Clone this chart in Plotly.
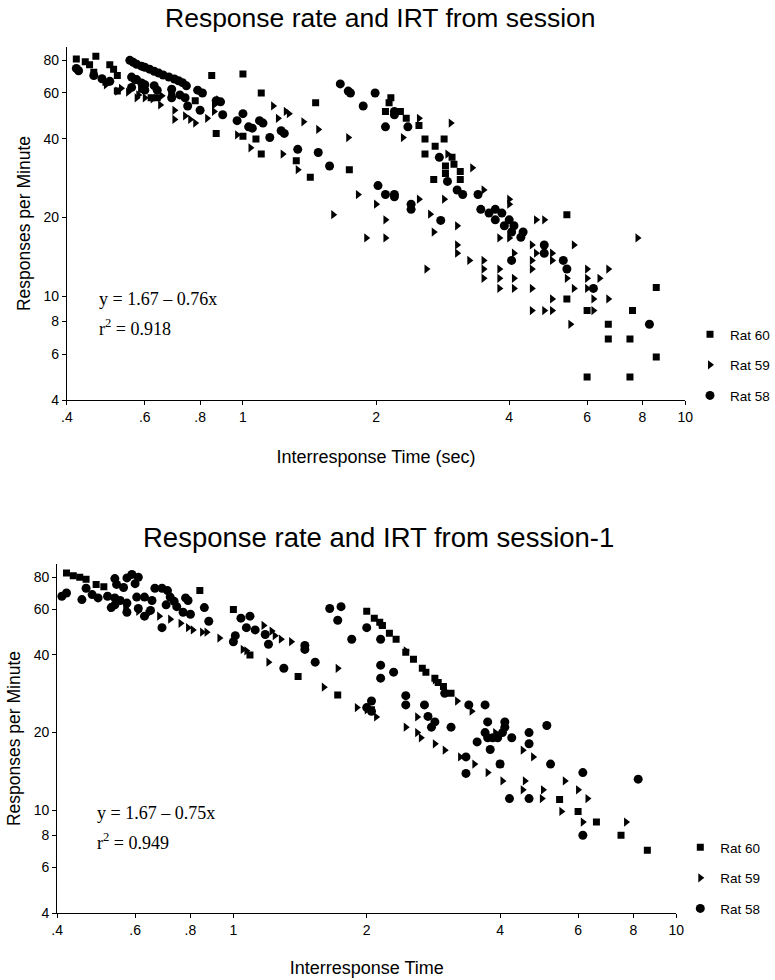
import math
import plotly.graph_objects as go

# ---------------- tick definitions ----------------
X_TICKS = [0.4, 0.6, 0.8, 1, 2, 4, 6, 8, 10]
X_TICK_TEXT = [".4", ".6", ".8", "1", "2", "4", "6", "8", "10"]
Y_TICKS = [4, 6, 8, 10, 20, 40, 60, 80]
Y_TICK_TEXT = ["4", "6", "8", "10", "20", "40", "60", "80"]

SERIES_NAMES = ["Rat 60", "Rat 59", "Rat 58"]

# ---------------- session (top panel) ----------------
s_rat60_x = [0.42, 0.44, 0.45, 0.465, 0.50, 0.51, 0.52, 0.46, 0.52, 0.62, 0.78, 0.49, 0.59, 0.64, 0.69,
             0.85, 1.0, 1.1, 1.46, 0.87, 1.0, 1.07, 1.1, 1.32, 1.42, 1.74, 2.16, 2.14, 2.1, 2.27,
             2.34, 2.5, 2.58, 2.72, 2.85, 2.58, 2.97, 3.0, 2.87, 2.87, 3.1, 3.1, 2.7, 5.4, 8.6,
             5.4, 6.0, 7.6, 6.7, 6.7, 7.5, 8.6, 6.0, 7.5]
s_rat60_y = [81, 79, 77, 83, 77, 74, 70, 72, 61, 57.5, 56, 66, 62, 57.5, 59,
             70, 71, 60, 55, 42, 41, 40, 35, 33, 28.5, 30.5, 57.5, 55, 51, 51,
             48, 45, 40, 37.5, 40, 35, 34, 32, 31.5, 29.5, 30, 28, 28, 20.5, 10.8,
             9.75, 8.8, 8.8, 7.8, 6.85, 6.85, 5.85, 4.9, 4.9]

s_rat59_x = [0.52, 0.575, 0.60, 0.65, 0.70, 0.70, 0.74, 0.76, 0.78, 0.83, 0.86, 0.86, 0.88, 0.97, 1.04,
             1.17, 1.25, 1.27, 1.2, 1.37, 1.48, 1.73, 1.23, 1.33, 1.82, 1.6, 2.0, 2.1, 1.9, 2.1,
             2.3, 2.5, 2.95, 3.3, 2.9, 2.5, 2.65, 2.85, 3.05, 2.7, 3.5, 4.0, 4.0, 4.6, 4.8,
             7.8, 3.8, 4.0, 3.05, 3.05, 3.25, 3.5, 3.5, 3.5, 3.8, 3.8, 3.8, 4.1, 4.1, 4.1,
             4.5, 4.6, 5.0, 4.5, 5.0, 4.5, 5.6, 4.5, 2.6, 5.4, 6.0, 6.0, 6.4, 6.7, 5.6,
             6.0, 6.2, 6.7, 5.0, 4.5, 4.8, 5.0, 6.2, 5.5, 0.58, 0.625, 0.655, 0.55, 0.53, 0.49]
s_rat59_y = [61, 57.5, 57.5, 54, 51.5, 47.5, 49, 47.5, 46, 48, 54, 51, 56.5, 41.5, 37,
             53.5, 51, 50, 48, 46.5, 43.5, 40.5, 35, 30.5, 24.5, 20.5, 22.5, 19.6, 16.7, 16.7,
             40.5, 48, 46, 31, 35, 23.5, 20.6, 23.5, 18.6, 17.6, 25.5, 23.5, 22.5, 19.6, 19.6,
             16.7, 16.7, 16.7, 15.7, 14.6, 13.7, 13.7, 12.7, 11.7, 12.7, 11.7, 10.7, 11.7, 10.7, 14.6,
             15.7, 14.6, 14.6, 13.7, 13.7, 12.7, 15.7, 10.7, 12.7, 11.7, 12.7, 11.7, 11.7, 12.7, 10.7,
             10.7, 9.75, 9.75, 9.75, 8.8, 8.8, 8.8, 8.8, 7.8, 59, 57, 58.5, 60.5, 62.5, 64.5]

s_rat58_x = [0.555, 0.565, 0.575, 0.59, 0.60, 0.615, 0.63, 0.645, 0.66, 0.68, 0.70, 0.715, 0.73, 0.745,
             0.42, 0.425, 0.46, 0.48, 0.50, 0.56, 0.575, 0.60, 0.63, 0.69, 0.74, 0.79, 0.81, 0.87, 0.89,
             0.90, 0.97, 1.0, 1.03, 1.05, 1.09, 1.11, 1.15, 1.22, 1.24, 1.33, 1.48, 1.57, 1.66, 1.73,
             1.75, 1.87, 1.99, 2.2, 2.2, 2.36, 2.1, 2.78, 2.9, 3.05, 3.14, 3.4, 2.02, 2.1, 2.2,
             2.2, 2.4, 2.4, 2.8, 3.45, 3.6, 3.72, 3.85, 3.72, 4.0, 3.9, 4.1, 4.05, 4.3, 4.25,
             4.05, 4.8, 4.8, 5.3, 5.4, 6.2, 8.3, 0.57, 0.59, 0.56, 0.60, 0.64, 0.69, 0.72, 0.75, 0.80]
s_rat58_y = [80, 78.6, 77.3, 76, 75.3, 74, 72.7, 71.5, 70.3, 69.1, 67.9, 66.8, 65.7, 63.9,
             74.5, 73, 70, 68, 66.5, 69, 67.5, 64.5, 64, 62, 57.5, 61.5, 60, 56, 55.5,
             49.5, 47, 50, 44.5, 44, 47, 46, 40.5, 43, 42, 36.5, 35.5, 31.5, 65, 61,
             60, 53.5, 60, 51, 49.5, 44.5, 44.5, 34, 27.5, 25.5, 24.5, 24.5, 26.5, 24.5, 24.5,
             24, 22.5, 21.5, 19.5, 21.5, 20.8, 21.5, 20.8, 19.6, 19.6, 18.6, 18.6, 17.6, 17.6, 16.8,
             13.7, 15.7, 14.6, 13.7, 12.7, 10.7, 7.8, 67.5, 65.5, 63, 61.5, 61.5, 57.5, 59, 53.5, 51.5]

# ---------------- session-1 (bottom panel) ----------------
p_rat60_x = [0.42, 0.435, 0.45, 0.465, 0.49, 0.51, 0.84, 1.0, 1.09, 1.4, 1.72, 2.0, 2.08, 2.14, 2.17,
             2.25, 2.33, 2.45, 2.55, 2.67, 2.72, 2.85, 2.9, 2.98, 3.1, 2.05, 5.45, 6.0, 6.6, 7.5,
             8.6, 4.0]
p_rat60_y = [83, 81, 80, 78.5, 75, 73.5, 71, 60, 40, 33, 28, 59, 55.5, 53.5, 52,
             48.5, 46, 41, 38.5, 35.5, 34.3, 32.5, 31.3, 30.2, 28.4, 24.5, 11, 9.9, 9.0, 8.0,
             7.0, 15.1]

p_rat59_x = [0.53, 0.57, 0.61, 0.64, 0.68, 0.72, 0.76, 0.79, 0.81, 0.85, 0.87, 0.93, 1.05, 1.07, 1.17,
             1.22, 1.24, 1.28, 1.35, 1.2, 1.6, 1.72, 1.9, 2.0, 2.1, 2.15, 2.45, 2.85, 3.2, 3.45,
             2.45, 2.6, 2.6, 2.65, 2.85, 3.0, 3.25, 3.5, 3.75, 4.05, 4.55, 4.5, 4.75, 5.6, 4.5,
             5.0, 6.0, 4.97, 6.3, 5.5, 6.15, 7.7, 3.9]
p_rat59_y = [61, 61, 59, 57.5, 56.5, 55, 53, 51, 50, 49, 49, 46.5, 42, 41.5, 52,
             49.5, 47.5, 46, 45, 37.5, 30, 35.5, 25, 24.5, 23, 53, 41.5, 32, 26.5, 24.2,
             21, 23, 20, 19.1, 18.1, 17.1, 16.1, 15.1, 14.0, 13.0, 13.0, 17.1, 16.1, 13.0, 12.0,
             12.0, 12.0, 11.1, 11.1, 9.9, 9.0, 9.0, 20]

p_rat58_x = [0.41, 0.42, 0.455, 0.54, 0.545, 0.575, 0.59, 0.61, 0.565, 0.60, 0.465, 0.48, 0.495, 0.52, 0.54,
             0.555, 0.575, 0.605, 0.63, 0.655, 0.665, 0.69, 0.71, 0.72, 0.735, 0.705, 0.745, 0.78, 0.79, 0.80,
             0.77, 0.63, 0.69, 0.53, 0.575, 0.86, 0.88, 0.54, 0.65, 0.61, 1.0, 1.01, 1.04, 1.09, 1.07,
             1.12, 1.18, 1.2, 1.3, 1.45, 1.45, 1.53, 1.65, 1.75, 1.72, 1.85, 2.0, 2.15, 2.15, 2.15,
             2.3, 2.05, 2.0, 2.05, 2.45, 2.45, 2.7, 2.75, 2.85, 2.8, 3.1, 3.0, 3.4, 3.7, 3.75,
             3.7, 3.75, 3.55, 3.8, 3.35, 3.35, 4.1, 4.1, 4.65, 5.1, 4.25, 4.65, 4.0, 5.2, 6.15,
             8.2, 4.2, 4.65, 6.15, 3.85, 3.95, 4.05]
p_rat58_y = [67.5, 69.5, 65.5, 79, 75, 79.5, 82, 80, 73, 75.5, 72.5, 68.5, 66.5, 67.5, 66.5,
             65, 63.5, 67, 67, 65, 72.5, 72.5, 71, 67, 64.5, 62.5, 61.5, 66.5, 65, 57.5,
             58.5, 56.5, 51, 61, 58.5, 61, 54, 62.5, 59.5, 60.5, 45, 47.5, 55.5, 56.5, 51,
             50, 48, 44, 35.5, 43.5, 42, 37.5, 60.5, 61.5, 54.5, 46, 51, 46, 36.5, 32.5,
             34.3, 26.5, 25, 24.2, 27.8, 25.6, 25.6, 23.1, 22, 21, 21, 28.4, 25.6, 25.6, 22,
             20, 19.1, 18.4, 17.2, 16.1, 13.9, 22, 21, 20, 21.3, 19.1, 18.1, 15.1, 15.1, 14,
             13.2, 11.1, 11.1, 8.0, 19.1, 19.1, 20]

FONT = "Liberation Sans, Arial, sans-serif"
SERIF = "Liberation Serif, Times New Roman, serif"

symbols = {"Rat 60": ("square", 7), "Rat 59": ("triangle-right", 8), "Rat 58": ("circle", 9)}

panels = [
    ("x", "y", "legend", "t", [(s_rat60_x, s_rat60_y), (s_rat59_x, s_rat59_y), (s_rat58_x, s_rat58_y)]),
    ("x2", "y2", "legend2", "b", [(p_rat60_x, p_rat60_y), (p_rat59_x, p_rat59_y), (p_rat58_x, p_rat58_y)]),
]

fig = go.Figure()
for xa, ya, lg, tag, series in panels:
    for name, (xs, ys) in zip(SERIES_NAMES, series):
        sym, sz = symbols[name]
        fig.add_trace(go.Scatter(
            x=xs, y=ys, mode="markers", name=name,
            xaxis=xa, yaxis=ya, legend=lg, legendgroup=tag + name,
            marker=dict(symbol=sym, size=sz, color="black", line=dict(width=0)),
        ))

W, H = 775, 980


def xdom(l, r):
    return [l / W, r / W]


def ydom(top, bottom):
    return [(H - bottom) / H, (H - top) / H]


axis_common = dict(
    type="log", showline=True, linecolor="black", linewidth=1, mirror=False,
    ticks="outside", ticklen=4, tickcolor="black", showgrid=False, zeroline=False,
    tickfont=dict(family=FONT, size=14, color="black"), automargin=False,
)
xr = [math.log10(0.4), 1.0]
yr = [math.log10(4), math.log10(90)]

fig.update_layout(
    width=W, height=H,
    margin=dict(l=0, r=0, t=0, b=0),
    paper_bgcolor="white", plot_bgcolor="white",
    font=dict(family=FONT, size=14, color="black"),
    xaxis=dict(axis_common, domain=xdom(68, 696), range=xr, anchor="y",
               tickvals=X_TICKS, ticktext=X_TICK_TEXT,
               title=dict(text="Interresponse Time (sec)", font=dict(family=FONT, size=18), standoff=26)),
    yaxis=dict(axis_common, domain=ydom(47, 400), range=yr, anchor="x",
               tickvals=Y_TICKS, ticktext=Y_TICK_TEXT,
               title=dict(text="Responses per Minute", font=dict(family=FONT, size=17.5), standoff=8)),
    xaxis2=dict(axis_common, domain=xdom(58, 687), range=xr, anchor="y2",
                tickvals=X_TICKS, ticktext=X_TICK_TEXT,
                title=dict(text="Interresponse Time", font=dict(family=FONT, size=18), standoff=24)),
    yaxis2=dict(axis_common, domain=ydom(564, 913), range=yr, anchor="x2",
                tickvals=Y_TICKS, ticktext=Y_TICK_TEXT,
                title=dict(text="Responses per Minute", font=dict(family=FONT, size=17.5), standoff=8)),
    legend=dict(x=701 / W, y=(H - 319) / H, xanchor="left", yanchor="top",
                tracegroupgap=10, bgcolor="rgba(0,0,0,0)", font=dict(family=FONT, size=13.5),
                itemwidth=30),
    legend2=dict(x=691 / W, y=(H - 832) / H, xanchor="left", yanchor="top",
                 tracegroupgap=10, bgcolor="rgba(0,0,0,0)", font=dict(family=FONT, size=13.5),
                 itemwidth=30),
    showlegend=True,
    annotations=[
        dict(text="Response rate and IRT from session", x=386 / W, y=(H - 18) / H,
             xref="paper", yref="paper", xanchor="center", yanchor="middle", showarrow=False,
             font=dict(family=FONT, size=26.5, color="black")),
        dict(text="Response rate and IRT from session-1", x=384 / W, y=(H - 538) / H,
             xref="paper", yref="paper", xanchor="center", yanchor="middle", showarrow=False,
             font=dict(family=FONT, size=27.5, color="black")),
        dict(text="y = 1.67 \u2013 0.76x", x=99 / W, y=(H - 299) / H,
             xref="paper", yref="paper", xanchor="left", yanchor="middle", showarrow=False,
             font=dict(family=SERIF, size=18, color="black")),
        dict(text="r<sup>2</sup> = 0.918", x=99 / W, y=(H - 327) / H,
             xref="paper", yref="paper", xanchor="left", yanchor="middle", showarrow=False,
             font=dict(family=SERIF, size=18, color="black")),
        dict(text="y = 1.67 \u2013 0.75x", x=96 / W, y=(H - 813) / H,
             xref="paper", yref="paper", xanchor="left", yanchor="middle", showarrow=False,
             font=dict(family=SERIF, size=18, color="black")),
        dict(text="r<sup>2</sup> = 0.949", x=96 / W, y=(H - 841) / H,
             xref="paper", yref="paper", xanchor="left", yanchor="middle", showarrow=False,
             font=dict(family=SERIF, size=18, color="black")),
    ],
)

fig.write_html("out.html", config={"displayModeBar": False},
               post_script="document.body.style.margin='0';")
